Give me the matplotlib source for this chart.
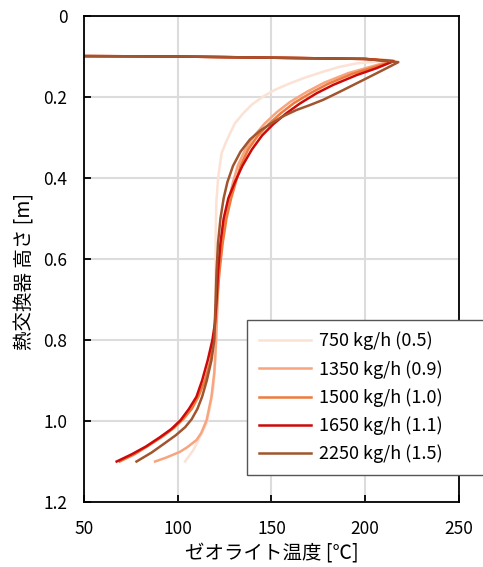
import matplotlib
matplotlib.use("Agg")
import matplotlib.pyplot as plt
from matplotlib.ticker import FixedLocator, FuncFormatter

plt.rcParams['font.family'] = ['Noto Sans CJK JP', 'DejaVu Sans']

labels = ["750 kg/h (0.5)", "1350 kg/h (0.9)", "1500 kg/h (1.0)",
          "1650 kg/h (1.1)", "2250 kg/h (1.5)"]
colors = ["#FBE2D4", "#F8A47E", "#EE7A3C", "#CC0A0A", "#A0552F"]

T750 = [50, 100, 150, 200, 213.5, 205, 195.4, 186, 177.6, 168, 160, 152, 145.5, 139.5,
        135, 130.5, 128, 125.5, 123.4, 121.6, 120.6, 120.2, 120.2, 120.5, 120.5, 120,
        119, 117.5, 115.4, 111.9, 108.3, 103.9]
h750 = [0.099, 0.100, 0.103, 0.106, 0.109, 0.113, 0.117, 0.126, 0.1375, 0.152, 0.166,
        0.182, 0.199, 0.219, 0.240, 0.265, 0.289, 0.314, 0.339, 0.397, 0.46, 0.55, 0.65,
        0.75, 0.80, 0.86, 0.92, 0.96, 1.006, 1.039, 1.072, 1.1]

T1350 = [50, 100, 150, 200, 214.5, 204, 191, 178, 169, 160, 153, 146.5, 141, 136, 132,
         129.5, 127.5, 125.5, 123.5, 122, 121.3, 120.8, 120.5, 119.5, 118, 115.4, 112.5,
         110, 105, 101.2, 94, 87.9]
h1350 = [0.099, 0.100, 0.103, 0.106, 0.110, 0.124, 0.141, 0.165, 0.187, 0.212, 0.237,
         0.265, 0.295, 0.33, 0.37, 0.41, 0.45, 0.5, 0.56, 0.63, 0.7, 0.76, 0.8, 0.88,
         0.94, 0.998, 1.03, 1.047, 1.065, 1.076, 1.09, 1.1]

T1500 = [50, 100, 150, 200, 215.5, 205, 193, 180, 171, 162, 155, 148.5, 142.5, 137.5,
         133.5, 131, 128.5, 126, 124, 122.3, 121, 120, 119, 117.5, 114.5, 111, 107.5,
         103, 98, 92, 84, 77, 69]
h1500 = [0.099, 0.100, 0.103, 0.106, 0.111, 0.126, 0.143, 0.168, 0.19, 0.215, 0.24,
         0.267, 0.297, 0.33, 0.37, 0.41, 0.45, 0.5, 0.56, 0.63, 0.7, 0.76, 0.8, 0.85,
         0.9, 0.94, 0.97, 0.995, 1.017, 1.038, 1.062, 1.082, 1.1]

T1650 = [50, 100, 150, 200, 215, 206, 195.4, 183, 174, 165.2, 158, 151, 145, 139.5,
         134.5, 130.5, 127, 124.5, 122.8, 121.5, 120.7, 119.8, 118.5, 116, 113, 110,
         106, 101.5, 96.5, 90.5, 83, 75.5, 67.4]
h1650 = [0.099, 0.100, 0.103, 0.106, 0.112, 0.129, 0.146, 0.170, 0.191, 0.216, 0.24,
         0.267, 0.295, 0.33, 0.37, 0.41, 0.45, 0.5, 0.56, 0.63, 0.7, 0.76, 0.8, 0.85,
         0.9, 0.94, 0.97, 0.998, 1.02, 1.04, 1.063, 1.082, 1.1]

T2250 = [50, 100, 150, 200, 217.7, 211.4, 199, 186.5, 177.6, 170.5, 163.4, 156, 150,
         144, 138.5, 133.5, 129.5, 126.5, 124.5, 122.8, 121.5, 120.7, 120.2, 119.5, 118,
         115.5, 113, 110.5, 107.5, 104, 99, 93, 86, 78]
h2250 = [0.099, 0.100, 0.103, 0.106, 0.114, 0.129, 0.158, 0.187, 0.207, 0.22, 0.232,
         0.248, 0.265, 0.283, 0.305, 0.335, 0.37, 0.41, 0.45, 0.5, 0.56, 0.63, 0.7, 0.8,
         0.85, 0.9, 0.94, 0.97, 0.995, 1.015, 1.035, 1.055, 1.078, 1.1]

series_T = [T750, T1350, T1500, T1650, T2250]
series_h = [h750, h1350, h1500, h1650, h2250]

xticks = [50, 100, 150, 200, 250]
yticks = [0, 0.2, 0.4, 0.6, 0.8, 1.0, 1.2]

fig = plt.figure(figsize=(4.83, 5.67), dpi=100)
ax = fig.add_axes([0.174, 0.1146, 0.776, 0.8572])

for T, h, c, lab in zip(series_T, series_h, colors, labels):
    ax.plot(T, h, color=c, lw=1.8, label=lab, solid_joinstyle='round')

ax.set_xlim(50, 250)
ax.set_ylim(1.2, 0)
ax.xaxis.set_major_locator(FixedLocator(xticks))
ax.yaxis.set_major_locator(FixedLocator(yticks))
ax.yaxis.set_major_formatter(FuncFormatter(lambda v, p: "0" if abs(v) < 1e-9 else f"{v:.1f}"))
ax.grid(True, color="#DCDCDC", lw=1.5)
ax.set_axisbelow(True)
for s in ax.spines.values():
    s.set_color("black")
    s.set_linewidth(1.3)
ax.tick_params(direction='in', length=5, width=1.3, labelsize=12.5,
               top=False, right=False)
ax.tick_params(axis='x', pad=13)
ax.tick_params(axis='y', pad=12)

ax.set_xlabel("ゼオライト温度 [℃]", fontsize=14, labelpad=3)
ax.set_ylabel("熱交換器 高さ [m]", fontsize=14)
ax.yaxis.set_label_coords(-0.13, 0.475)

handles, labs = ax.get_legend_handles_labels()
leg = fig.legend(handles, labs, loc='upper left',
                 bbox_to_anchor=(0.511, 0.1, 0.6, 0.3356), mode='expand',
                 fontsize=13, frameon=True, fancybox=False, framealpha=1,
                 edgecolor="#555555", handlelength=2.9, handletextpad=0.45,
                 labelspacing=0.53, borderpad=0.65, borderaxespad=0)
leg.get_frame().set_linewidth(1.0)
for l in leg.get_lines():
    l.set_linewidth(1.8)

fig.savefig("out.png", dpi=100)
